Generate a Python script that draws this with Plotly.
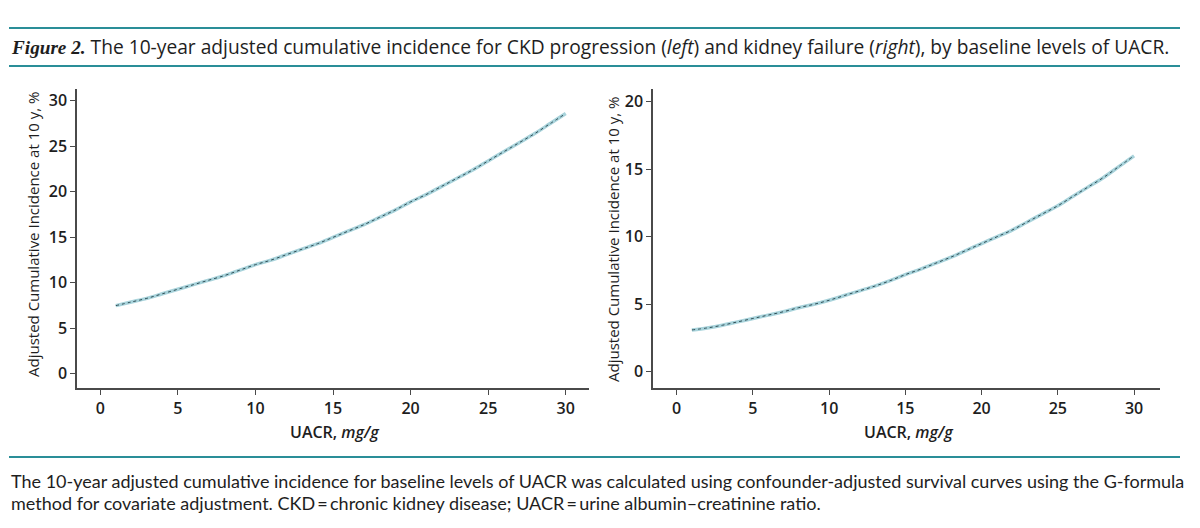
import plotly.graph_objects as go

# ---- data ----
uacr = list(range(1, 31))
ckd_progression = [7.5, 7.9, 8.3, 8.8, 9.3, 9.8, 10.3, 10.8, 11.4, 12.0,
                   12.5, 13.1, 13.7, 14.3, 15.0, 15.7, 16.4, 17.2, 18.0, 18.9,
                   19.7, 20.6, 21.5, 22.4, 23.4, 24.4, 25.4, 26.4, 27.5, 28.6]
kidney_failure = [3.1, 3.25, 3.45, 3.7, 3.95, 4.2, 4.45, 4.75, 5.0, 5.3,
                  5.65, 6.0, 6.35, 6.75, 7.2, 7.6, 8.05, 8.5, 9.0, 9.5,
                  10.0, 10.5, 11.1, 11.7, 12.3, 13.0, 13.7, 14.4, 15.2, 16.0]
x_ticks = [0, 5, 10, 15, 20, 25, 30]
y_ticks_left = [0, 5, 10, 15, 20, 25, 30]
y_ticks_right = [0, 5, 10, 15, 20]

title_html = ('<span style="font-family:\'Liberation Serif\'"><b><i>Figure 2.</i></b></span>'
              ' The 10-year adjusted cumulative incidence for CKD progression (<i>left</i>) '
              'and kidney failure (<i>right</i>), by baseline levels of UACR.')
caption_line1 = ('The 10-year adjusted cumulative incidence for baseline levels of UACR was calculated '
                 'using confounder-adjusted survival curves using the G-formula')
caption_line2 = 'method for covariate adjustment. CKD\u2009=\u2009chronic kidney disease; UACR\u2009=\u2009urine albumin\u2013creatinine ratio.'
y_title = 'Adjusted Cumulative Incidence at 10 y, %'
x_title = 'UACR, <i>mg/g</i>'

W, H = 1200, 528
LIGHT = '#a8d3db'
DARK = '#2f4d55'
TEAL = '#2a8e98'
AX = '#4a4a4a'
TXT = '#1e1e1e'

fig = go.Figure()
for xa, ya, vals in [('x', 'y', ckd_progression), ('x2', 'y2', kidney_failure)]:
    fig.add_trace(go.Scatter(x=uacr, y=vals, xaxis=xa, yaxis=ya, mode='lines',
                             line=dict(color=LIGHT, width=3.5, shape='spline'),
                             hoverinfo='skip', showlegend=False))
    fig.add_trace(go.Scatter(x=uacr, y=vals, xaxis=xa, yaxis=ya, mode='lines',
                             line=dict(color=DARK, width=1, dash='dot', shape='spline'),
                             showlegend=False))

def px_x(p):
    return p / W

def px_y(p):
    return (H - p) / H

tickfont = dict(family='Open Sans', size=16, color=TXT, weight=600)
common = dict(showline=True, linecolor=AX, linewidth=1.5, ticks='outside', ticklen=5,
              tickwidth=1.2, tickcolor=AX, showgrid=False, zeroline=False,
              tickfont=tickfont, fixedrange=True)

fig.update_layout(
    width=W, height=H,
    margin=dict(l=0, r=0, t=0, b=0),
    paper_bgcolor='white', plot_bgcolor='white',
    xaxis=dict(domain=[px_x(77), px_x(589)], range=[-1.5, 31.5], tickvals=x_ticks,
               anchor='y', **common),
    yaxis=dict(domain=[px_y(388), px_y(89)], range=[-1.55, 31.3], tickvals=y_ticks_left,
               anchor='x', **common),
    xaxis2=dict(domain=[px_x(653), px_x(1160)], range=[-1.55, 31.7], tickvals=x_ticks,
                anchor='y2', **common),
    yaxis2=dict(domain=[px_y(388), px_y(89)], range=[-1.2, 20.95], tickvals=y_ticks_right,
                anchor='x2', **common),
)

shapes = []
for yy in (28, 66, 457):
    shapes.append(dict(type='line', xref='paper', yref='paper',
                       x0=px_x(9), x1=px_x(1180), y0=px_y(yy), y1=px_y(yy),
                       line=dict(color=TEAL, width=2.2)))
fig.update_layout(shapes=shapes)

ann = []
ann.append(dict(text=title_html, x=px_x(9), y=px_y(47), xref='paper', yref='paper',
                xanchor='left', yanchor='middle', showarrow=False,
                font=dict(family='Open Sans', size=19.2, color=TXT)))
ann.append(dict(text=caption_line1, x=px_x(9), y=px_y(481), xref='paper', yref='paper',
                xanchor='left', yanchor='middle', showarrow=False,
                font=dict(family='Lato', size=18, color=TXT)))
ann.append(dict(text=caption_line2, x=px_x(9), y=px_y(503), xref='paper', yref='paper',
                xanchor='left', yanchor='middle', showarrow=False,
                font=dict(family='Lato', size=18, color=TXT)))
for cx, cy in ((33, 235), (613, 240)):
    ann.append(dict(text=y_title, x=px_x(cx), y=px_y(cy), xref='paper', yref='paper',
                    xanchor='center', yanchor='middle', showarrow=False, textangle=-90,
                    font=dict(family='Open Sans', size=15, color=TXT, weight=500)))
for cx in (335, 909):
    ann.append(dict(text=x_title, x=px_x(cx), y=px_y(432), xref='paper', yref='paper',
                    xanchor='center', yanchor='middle', showarrow=False,
                    font=dict(family='Open Sans', size=16, color=TXT, weight=600)))
fig.update_layout(annotations=ann)

fig.write_html('out.html', config={'displayModeBar': False},
               post_script="document.body.style.margin='0';")
